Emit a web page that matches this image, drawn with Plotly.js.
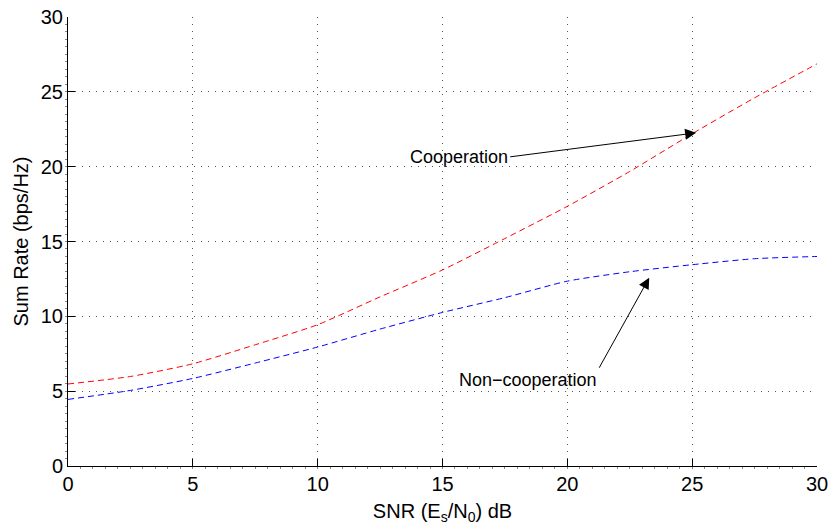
<!DOCTYPE html>
<html>
<head>
<meta charset="utf-8">
<script src="https://cdn.plot.ly/plotly-3.0.1.min.js"></script>
<style>html,body{margin:0;padding:0;background:#fff;}#chart{width:829px;height:529px;}</style>
</head>
<body>
<div id="chart"></div>
<script>
var snr = [0, 2.5, 5, 7.5, 10, 12.5, 15, 17.5, 20, 22.5, 25, 27.5, 30];
var cooperation = [5.48, 5.98, 6.83, 8.1, 9.44, 11.3, 13.1, 15.2, 17.35, 19.68, 22.2, 24.6, 26.87];
var nonCooperation = [4.45, 5.05, 5.85, 6.88, 7.95, 9.15, 10.26, 11.25, 12.35, 12.98, 13.45, 13.85, 14.0];
var xTicks = [0, 5, 10, 15, 20, 25, 30];
var yTicks = [0, 5, 10, 15, 20, 25, 30];

var font = 'Liberation Sans, Arial, Helvetica, sans-serif';

var traces = [
  {x: snr, y: cooperation, type: 'scatter', mode: 'lines', name: 'Cooperation',
   line: {color: '#ff0000', width: 1, dash: '6px,4px', shape: 'spline', smoothing: 0.6}},
  {x: snr, y: nonCooperation, type: 'scatter', mode: 'lines', name: 'Non-cooperation',
   line: {color: '#0000ff', width: 1, dash: '6px,4px', shape: 'spline', smoothing: 0.6}}
];

var axisCommon = {
  showline: true, linecolor: '#000', linewidth: 1, mirror: false,
  showgrid: true, gridcolor: '#555', griddash: '1px,6px', gridwidth: 1,
  zeroline: false, ticks: 'inside', ticklen: 7, tickcolor: '#000', tickwidth: 1,
  tickfont: {family: font, size: 20, color: '#000'}
};

var layout = {
  width: 829, height: 529,
  margin: {l: 68, r: 12, t: 17, b: 63},
  paper_bgcolor: '#fff', plot_bgcolor: '#fff',
  showlegend: false,
  font: {family: font, color: '#000'},
  xaxis: Object.assign({}, axisCommon, {
    range: [0, 30], tickmode: 'array', tickvals: xTicks, ticktext: xTicks.map(String),
    title: {text: 'SNR (E<sub>s</sub>/N<sub>0</sub>) dB', font: {family: font, size: 20, color: '#000'}, standoff: 9},
    minor: {ticks: 'outside', ticklen: 2, dtick: 0.5, tickcolor: '#888', showgrid: false}
  }),
  yaxis: Object.assign({}, axisCommon, {
    range: [0, 30], tickmode: 'array', tickvals: yTicks, ticktext: yTicks.map(String),
    title: {text: 'Sum Rate (bps/Hz)', font: {family: font, size: 20, color: '#000'}, standoff: 6},
    minor: {ticks: 'outside', ticklen: 2, dtick: 0.5, tickcolor: '#888', showgrid: false}
  }),
  annotations: [
    {x: 25.16, y: 22.26, xref: 'x', yref: 'y', text: 'Cooperation', showarrow: true,
     ax: -186, ay: 24, xanchor: 'right', yanchor: 'middle',
     arrowhead: 2, arrowsize: 2.2, arrowwidth: 1, arrowcolor: '#000',
     font: {family: font, size: 18, color: '#000'}},
    {x: 23.28, y: 12.58, xref: 'x', yref: 'y', text: 'Non\u2212cooperation', showarrow: true,
     ax: -50, ay: 90, xanchor: 'right', yanchor: 'top',
     arrowhead: 2, arrowsize: 2.2, arrowwidth: 1, arrowcolor: '#000',
     font: {family: font, size: 18, color: '#000'}}
  ]
};

Plotly.newPlot('chart', traces, layout, {displayModeBar: false, staticPlot: true});
</script>
</body>
</html>
